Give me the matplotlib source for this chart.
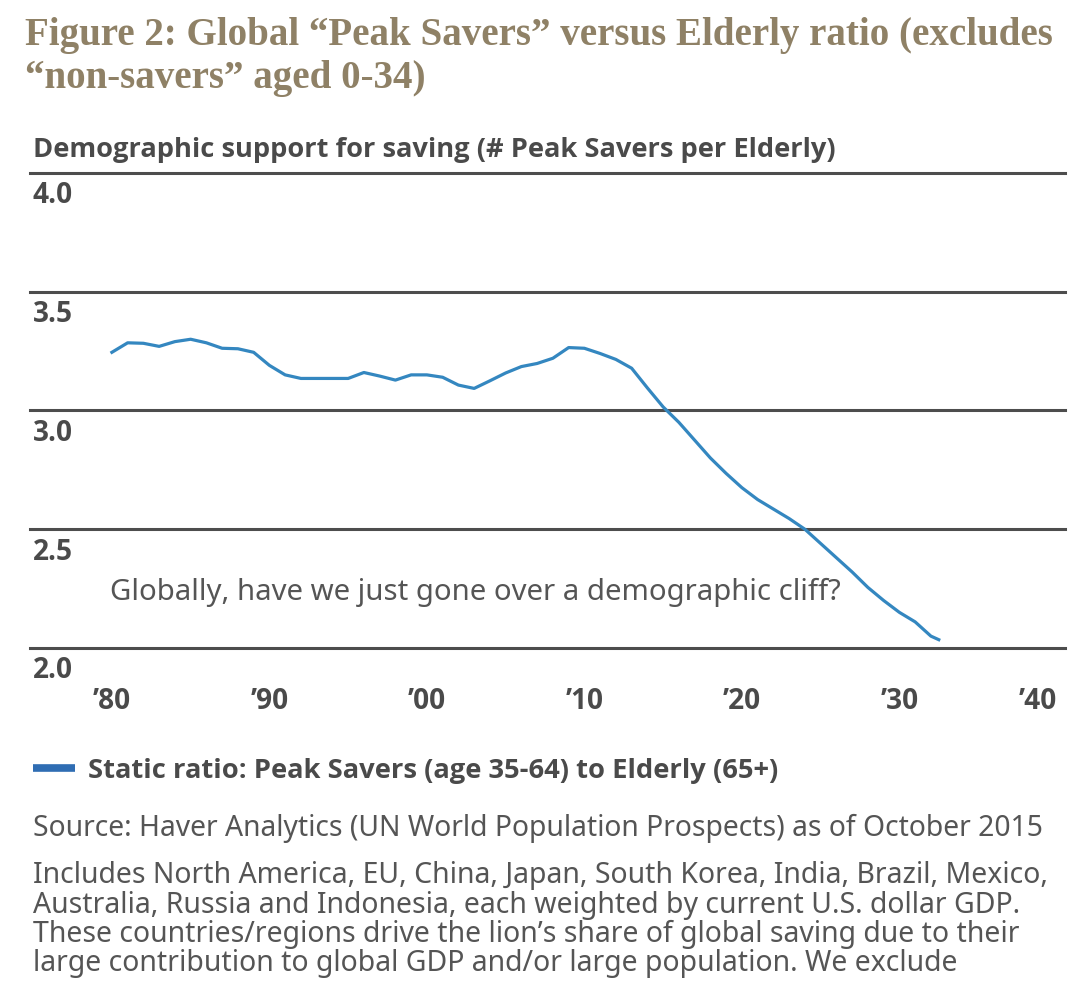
import matplotlib
matplotlib.use('Agg')
import matplotlib.pyplot as plt
from matplotlib import font_manager as fm
from matplotlib.lines import Line2D

# ---- data ----
years = [1980, 1981, 1982, 1983, 1984, 1985, 1986, 1987, 1988, 1989,
         1990, 1991, 1992, 1993, 1994, 1995, 1996, 1997, 1998, 1999,
         2000, 2001, 2002, 2003, 2004, 2005, 2006, 2007, 2008, 2009,
         2010, 2011, 2012, 2013, 2014, 2015, 2016, 2017, 2018, 2019,
         2020, 2021, 2022, 2023, 2024, 2025, 2026, 2027, 2028, 2029,
         2030, 2031, 2032, 2032.5]
ratio = [3.245, 3.285, 3.283, 3.270, 3.290, 3.300, 3.285, 3.262, 3.260, 3.245,
         3.190, 3.150, 3.135, 3.135, 3.135, 3.135, 3.160, 3.145, 3.128, 3.150,
         3.150, 3.140, 3.107, 3.093, 3.125, 3.158, 3.185, 3.198, 3.220, 3.265,
         3.262, 3.240, 3.215, 3.178, 3.095, 3.015, 2.950, 2.875, 2.800, 2.735,
         2.675, 2.625, 2.585, 2.545, 2.500, 2.440, 2.380, 2.320, 2.255, 2.200,
         2.150, 2.110, 2.050, 2.035]
y_ticks = [2.0, 2.5, 3.0, 3.5, 4.0]
y_tick_labels = ['2.0', '2.5', '3.0', '3.5', '4.0']
x_ticks = [1980, 1990, 2000, 2010, 2020, 2030, 2040]
x_tick_labels = ['\u201980', '\u201990', '\u201900', '\u201910', '\u201920', '\u201930', '\u201940']

title_lines = ['Figure 2: Global \u201cPeak Savers\u201d versus Elderly ratio (excludes',
               '\u201cnon-savers\u201d aged 0-34)']
y_label = 'Demographic support for saving (# Peak Savers per Elderly)'
annotation = 'Globally, have we just gone over a demographic cliff?'
legend_label = 'Static ratio: Peak Savers (age 35-64) to Elderly (65+)'
source = 'Source: Haver Analytics (UN World Population Prospects) as of October 2015'
note_lines = [
    'Includes North America, EU, China, Japan, South Korea, India, Brazil, Mexico,',
    'Australia, Russia and Indonesia, each weighted by current U.S. dollar GDP.',
    'These countries/regions drive the lion\u2019s share of global saving due to their',
    'large contribution to global GDP and/or large population. We exclude',
]

SANS = 'Noto Sans'
SERIF = 'Liberation Serif'


def has_bold(fam):
    try:
        path = fm.findfont(fm.FontProperties(family=fam, weight='bold'), fallback_to_default=False)
    except Exception:
        return False
    f = fm.get_font(path)
    return fam.lower().replace(' ', '') in f.family_name.lower().replace(' ', '') and \
        ('bold' in f.style_name.lower() or 'bold' in path.lower())


SANS_B = 'DejaVu Sans'
for cand in ['Noto Sans', 'Open Sans', 'Lato', 'Roboto', 'Liberation Sans']:
    if has_bold(cand):
        SANS_B = cand
        break

LINE_C = '#3487c0'
GRID_C = '#4d4d4d'
TXT_BOLD = '#4a4a4a'
TXT_REG = '#555555'
TITLE_C = '#8f8166'

W, H = 1080, 984
fig = plt.figure(figsize=(W / 100, H / 100), dpi=100)
fig.patch.set_facecolor('white')
renderer = fig.canvas.get_renderer()


def fit_size(s, target_px, base=20, **kw):
    t = fig.text(0, 0, s, fontsize=base, **kw)
    w = t.get_window_extent(renderer).width
    t.remove()
    return base * target_px / w


def fy(px):
    return 1 - px / H


ax = fig.add_axes([30 / W, fy(648), 1035 / W, 475 / H])
ax.plot(years, ratio, color=LINE_C, lw=2.3, solid_joinstyle='round')
ax.set_xlim(1974.8, 1974.8 + 1035 / 15.75)
ax.set_ylim(2.0, 4.0)
for s in ax.spines.values():
    s.set_visible(False)
ax.set_yticks(y_ticks)
ax.set_yticklabels([])
ax.tick_params(axis='y', length=0)
ax.yaxis.grid(True, color=GRID_C, lw=2.2)
for gl in ax.get_ygridlines():
    gl.set_clip_on(False)
ax.set_axisbelow(True)

tick_kw = dict(family=SANS_B, fontweight='bold')
tick_fs = fit_size('4.0', 40, **tick_kw)
ax.set_xticks(x_ticks)
ax.set_xticklabels(x_tick_labels, fontsize=tick_fs, color=TXT_BOLD, **tick_kw)
ax.tick_params(axis='x', length=0, pad=28)
lab40 = ax.get_xticklabels()[-1]
lab40.set_horizontalalignment('right')
lab40.set_x(2040.4)

for v, lab in zip(y_ticks, y_tick_labels):
    ax.annotate(lab, xy=(0, v), xycoords=('axes fraction', 'data'),
                xytext=(2, -6), textcoords='offset points', va='top', ha='left',
                fontsize=tick_fs, color=TXT_BOLD, **tick_kw)

ann_fs = fit_size(annotation, 730, family=SANS)
ax.text(1979.87, 4 - (600 - 173) / 237.5, annotation, fontsize=ann_fs, color=TXT_REG,
        family=SANS, va='baseline', ha='left')

# title
title_kw = dict(family=SERIF, fontweight='bold')
title_fs = fit_size(title_lines[0], 1030, **title_kw)
fig.text(25 / W, fy(45), title_lines[0], fontsize=title_fs, color=TITLE_C,
         va='baseline', ha='left', **title_kw)
fig.text(25 / W, fy(88), title_lines[1], fontsize=title_fs, color=TITLE_C,
         va='baseline', ha='left', **title_kw)

# y-axis label
ylab_kw = dict(family=SANS_B, fontweight='bold')
ylab_fs = fit_size(y_label, 802, **ylab_kw)
fig.text(33 / W, fy(157), y_label, fontsize=ylab_fs, color=TXT_BOLD,
         va='baseline', ha='left', **ylab_kw)

# legend
leg_fs = fit_size(legend_label, 692, family=SANS_B, fontweight='bold')
fs_px = leg_fs * 100 / 72
handle = Line2D([], [], color='#2f6db3', lw=5.5, solid_capstyle='butt')
fig.legend([handle], [legend_label], loc='center left', bbox_to_anchor=(33 / W, fy(771)),
           frameon=False, handlelength=42 / fs_px, handletextpad=13 / fs_px,
           borderpad=0, borderaxespad=0,
           prop={'family': SANS_B, 'weight': 'bold', 'size': leg_fs}, labelcolor=TXT_BOLD)

# source and notes
src_fs = fit_size(source, 1012, family=SANS)
fig.text(33 / W, fy(836), source, fontsize=src_fs, color=TXT_REG, family=SANS,
         va='baseline', ha='left')
note_fs = fit_size(note_lines[0], 1017, family=SANS)
for i, line in enumerate(note_lines):
    fig.text(33 / W, fy(883 + i * 29.5), line, fontsize=note_fs, color=TXT_REG,
             family=SANS, va='baseline', ha='left')

fig.savefig('out.png', dpi=100, facecolor='white')
